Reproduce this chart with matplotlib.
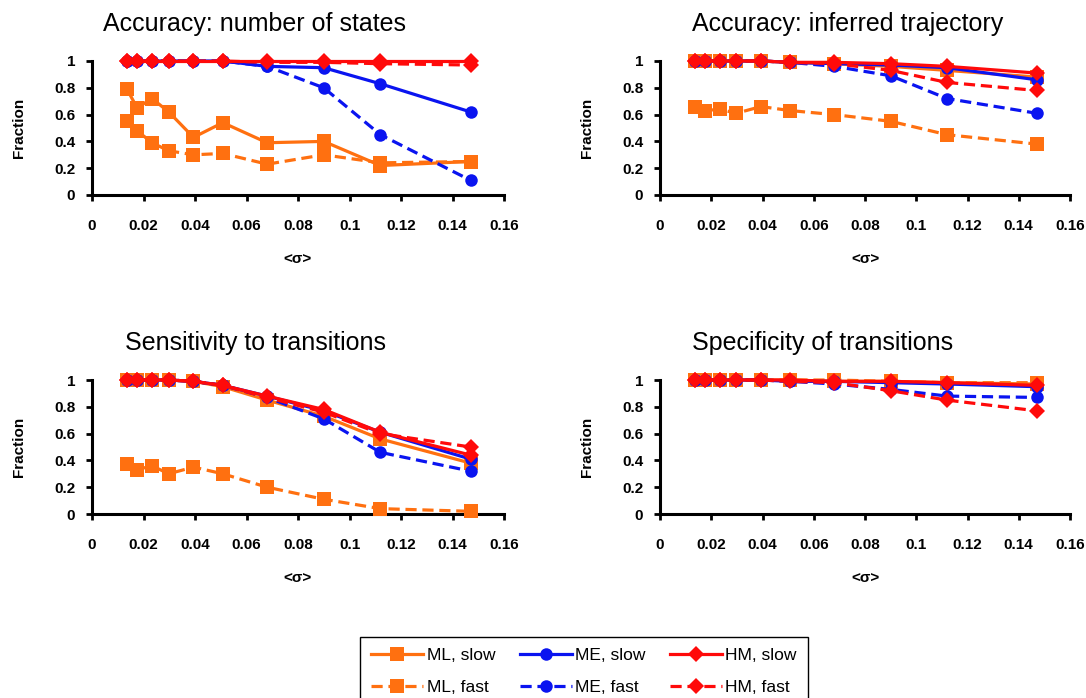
import matplotlib
matplotlib.use("Agg")
import matplotlib.pyplot as plt
from matplotlib.lines import Line2D

plt.rcParams['font.family'] = ['Liberation Sans', 'DejaVu Sans']

# x positions (mean sigma), shared by all panels
sigma = [0.0136, 0.0175, 0.0233, 0.0298, 0.0394, 0.0508, 0.068, 0.090, 0.112, 0.147]

# panel 1: accuracy, number of states
p1_ml_slow = [0.79, 0.65, 0.72, 0.62, 0.43, 0.54, 0.39, 0.40, 0.22, 0.25]
p1_ml_fast = [0.55, 0.48, 0.39, 0.33, 0.30, 0.31, 0.23, 0.30, 0.24, 0.25]
p1_me_slow = [1, 1, 1, 1, 1, 1, 0.96, 0.95, 0.83, 0.62]
p1_me_fast = [1, 1, 1, 1, 1, 1, 0.96, 0.80, 0.45, 0.11]
p1_hm_slow = [1, 1, 1, 1, 1, 1, 1, 1, 1, 1]
p1_hm_fast = [1, 1, 1, 1, 1, 1, 0.99, 0.99, 0.98, 0.97]

# panel 2: accuracy, inferred trajectory
p2_ml_slow = [1, 1, 1, 1, 1, 0.99, 0.98, 0.96, 0.93, 0.88]
p2_ml_fast = [0.66, 0.63, 0.64, 0.61, 0.66, 0.63, 0.60, 0.55, 0.45, 0.38]
p2_me_slow = [1, 1, 1, 1, 1, 0.99, 0.98, 0.97, 0.95, 0.86]
p2_me_fast = [1, 1, 1, 1, 1, 0.99, 0.96, 0.89, 0.72, 0.61]
p2_hm_slow = [1, 1, 1, 1, 1, 0.99, 0.99, 0.98, 0.96, 0.91]
p2_hm_fast = [1, 1, 1, 1, 1, 0.99, 0.98, 0.93, 0.84, 0.78]

# panel 3: sensitivity to transitions
p3_ml_slow = [1, 1, 1, 1, 0.99, 0.95, 0.85, 0.73, 0.56, 0.38]
p3_ml_fast = [0.37, 0.33, 0.36, 0.30, 0.35, 0.30, 0.20, 0.11, 0.04, 0.02]
p3_me_slow = [1, 1, 1, 1, 0.99, 0.96, 0.88, 0.77, 0.61, 0.41]
p3_me_fast = [1, 1, 1, 1, 0.99, 0.96, 0.87, 0.71, 0.46, 0.32]
p3_hm_slow = [1, 1, 1, 1, 0.99, 0.96, 0.88, 0.78, 0.61, 0.44]
p3_hm_fast = [1, 1, 1, 1, 0.99, 0.96, 0.87, 0.76, 0.60, 0.50]

# panel 4: specificity of transitions
p4_ml_slow = [1, 1, 1, 1, 1, 1, 0.99, 0.99, 0.98, 0.97]
p4_ml_fast = [1, 1, 1, 1, 1, 1, 1, 0.99, 0.98, 0.98]
p4_me_slow = [1, 1, 1, 1, 1, 0.99, 0.99, 0.98, 0.97, 0.95]
p4_me_fast = [1, 1, 1, 1, 1, 0.99, 0.97, 0.93, 0.88, 0.87]
p4_hm_slow = [1, 1, 1, 1, 1, 1, 0.99, 0.99, 0.98, 0.96]
p4_hm_fast = [1, 1, 1, 1, 1, 0.99, 0.98, 0.92, 0.85, 0.77]

titles = ["Accuracy: number of states", "Accuracy: inferred trajectory",
          "Sensitivity to transitions", "Specificity of transitions"]
series_names = ["ML, slow", "ML, fast", "ME, slow", "ME, fast", "HM, slow", "HM, fast"]
x_ticks = [0, 0.02, 0.04, 0.06, 0.08, 0.1, 0.12, 0.14, 0.16]
x_ticklabels = ["0", "0.02", "0.04", "0.06", "0.08", "0.1", "0.12", "0.14", "0.16"]
y_ticks = [0, 0.2, 0.4, 0.6, 0.8, 1]
y_ticklabels = ["0", "0.2", "0.4", "0.6", "0.8", "1"]

panels = [
    [p1_ml_slow, p1_ml_fast, p1_me_slow, p1_me_fast, p1_hm_slow, p1_hm_fast],
    [p2_ml_slow, p2_ml_fast, p2_me_slow, p2_me_fast, p2_hm_slow, p2_hm_fast],
    [p3_ml_slow, p3_ml_fast, p3_me_slow, p3_me_fast, p3_hm_slow, p3_hm_fast],
    [p4_ml_slow, p4_ml_fast, p4_me_slow, p4_me_fast, p4_hm_slow, p4_hm_fast],
]

ORANGE = "#FF7010"
BLUE = "#0A14F0"
RED = "#FF0A0A"
colors = [ORANGE, ORANGE, BLUE, BLUE, RED, RED]
markers = ["s", "s", "o", "o", "D", "D"]
msizes = [9.5, 9.5, 9, 9, 8, 8]
dash = (0, (3.5, 1.8))
styles = ["-", dash, "-", dash, "-", dash]

W, H = 1086, 698
fig = plt.figure(figsize=(W / 100, H / 100), dpi=100)

# axes boxes in pixels: left, right, top(y=1), bottom(y=0)
boxes = [(92, 504, 61, 195), (660, 1070, 61, 195),
         (92, 504, 380, 514), (660, 1070, 380, 514)]
title_pos = [(103, 24), (692, 24), (125, 343), (692, 343)]

for i, (l, r, t, b) in enumerate(boxes):
    ax = fig.add_axes([l / W, 1 - b / H, (r - l) / W, (b - t) / H])
    for k, ys in enumerate(panels[i]):
        ax.plot(sigma, ys, color=colors[k], linestyle=styles[k], linewidth=2.3,
                marker=markers[k], markersize=msizes[k], markeredgewidth=0,
                clip_on=False, zorder=3 + k)
    ax.set_xlim(0, 0.16)
    ax.set_ylim(0, 1)
    ax.set_xticks(x_ticks)
    ax.set_xticklabels(x_ticklabels)
    ax.set_yticks(y_ticks)
    ax.set_yticklabels(y_ticklabels)
    for s in ["top", "right"]:
        ax.spines[s].set_visible(False)
    for s in ["left", "bottom"]:
        ax.spines[s].set_linewidth(2.2)
    ax.tick_params(direction="out", length=4, width=2, labelsize=11)
    ax.tick_params(axis="x", pad=13)
    ax.tick_params(axis="y", pad=8)
    for lab in ax.get_xticklabels() + ax.get_yticklabels():
        lab.set_fontweight("bold")
    ax.set_ylabel("Fraction", fontsize=11, fontweight="bold", labelpad=20)
    ax.set_xlabel("<σ>", fontsize=11, fontweight="bold", labelpad=14)
    fig.text(title_pos[i][0] / W, 1 - title_pos[i][1] / H, titles[i],
             fontsize=18, ha="left", va="center")

handles = [Line2D([], [], color=colors[k], linestyle=styles[k], linewidth=2.3,
                  marker=markers[k], markersize=msizes[k], markeredgewidth=0)
           for k in range(6)]
fig.legend(handles, series_names, ncol=3, loc="upper left",
           bbox_to_anchor=(360 / W, 1 - 637 / H), fontsize=12.5,
           frameon=True, fancybox=False, edgecolor="black", framealpha=1,
           handlelength=3.0, handletextpad=0.2, columnspacing=1.4,
           borderpad=0.65, labelspacing=0.95, borderaxespad=0)

fig.savefig("out.png", dpi=100)
